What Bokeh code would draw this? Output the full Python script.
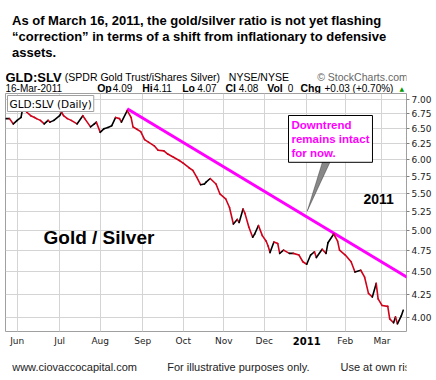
from bokeh.plotting import figure
from bokeh.layouts import column
from bokeh.models import FixedTicker, PrintfTickFormatter, Label, PolyAnnotation, ColumnDataSource
from bokeh.embed import file_html
from bokeh.resources import INLINE

# ---- data (trading-day index 0 = 1 Jun 2010) ----
days = [-6, -4, -2, 0, 2, 3, 4, 5, 7, 9, 10, 12, 14, 16, 17, 19, 22, 23, 24, 26,
        28, 31, 34, 35, 38, 40, 41, 43, 45, 47, 49, 51, 53, 54, 57, 59, 60, 62, 64, 66,
        68, 71, 73, 76, 78, 81, 84, 86, 89, 91, 93, 95, 97, 98, 100, 103, 105, 108, 110, 112,
        114, 115, 117, 118, 120, 122, 123, 125, 127, 129, 130, 131, 133, 135, 136, 138, 141, 143, 146, 148,
        150, 152, 154, 155, 158, 160, 161, 164, 166, 167, 170, 173, 175, 178, 180, 182, 184, 186, 187, 189,
        192, 193, 195, 196, 197, 199, 200]
ratio = [6.67, 6.67, 6.58, 6.64, 6.69, 6.88, 6.84, 6.78, 6.72, 6.69, 6.67, 6.64, 6.58, 6.64, 6.61, 6.64, 6.72, 6.78, 6.72, 6.67,
         6.64, 6.58, 6.72, 6.67, 6.53, 6.58, 6.61, 6.44, 6.50, 6.52, 6.55, 6.69, 6.67, 6.61, 6.81, 6.69, 6.53, 6.49, 6.45, 6.32,
         6.28, 6.22, 6.15, 6.14, 6.09, 6.04, 5.99, 5.95, 5.88, 5.84, 5.74, 5.63, 5.64, 5.67, 5.72, 5.64, 5.50, 5.43, 5.31, 5.09,
         5.15, 5.11, 5.29, 5.23, 5.05, 4.92, 4.96, 5.07, 4.94, 4.87, 4.81, 4.73, 4.86, 4.84, 4.72, 4.76, 4.72, 4.72, 4.70, 4.62,
         4.59, 4.70, 4.74, 4.67, 4.77, 4.72, 4.85, 4.96, 4.87, 4.76, 4.70, 4.62, 4.50, 4.52, 4.44, 4.26, 4.22, 4.37, 4.20, 4.13,
         4.12, 3.99, 3.95, 4.01, 3.94, 4.02, 4.08]
month_days = [0, 22, 43, 65, 86, 107, 128, 150, 170, 189]
month_labels = ["Jun", "Jul", "Aug", "Sep", "Oct", "Nov", "Dec", "2011", "Feb", "Mar"]
y_ticks = [4.00, 4.25, 4.50, 4.75, 5.00, 5.25, 5.50, 5.75, 6.00, 6.25, 6.50, 6.75, 7.00]
trend_days = [57, 202]
trend_vals = [6.84, 4.44]

W = 436
FONT = "Liberation Sans"
AXFONT = "DejaVu Sans"


def blank(fig):
    fig.outline_line_color = None
    fig.background_fill_color = "white"
    fig.border_fill_color = "white"
    fig.xgrid.visible = False
    fig.ygrid.visible = False
    return fig


def lab(fig, text, x, y, size="10px", bold=False, color="black", font=FONT, x_units="canvas",
        align="left", baseline="alphabetic", **kw):
    fig.add_layout(Label(x=x, y=y, x_units=x_units, y_units="canvas", text=text,
                         text_font=font, text_font_size=size,
                         text_font_style="bold" if bold else "normal",
                         text_color=color, text_baseline=baseline, text_align=align, **kw))


# ---------------- header ----------------
HH = 93
head = blank(figure(width=W, height=HH, output_backend="svg", toolbar_location=None, title=None,
                    x_axis_location=None, y_axis_location=None, x_range=(0, W), y_range=(0, HH),
                    min_border=0))
lab(head, "As of March 16, 2011, the gold/silver ratio is not yet flashing", 11.5, 20, "13px", True)
lab(head, "\u201ccorrection\u201d in terms of a shift from inflationary to defensive", 11.5, 36, "13px", True)
lab(head, "assets.", 11.5, 52, "13px", True)
lab(head, "GLD:SLV", 5, 76.5, "13px", True)
lab(head, "(SPDR Gold Trust/iShares Silver)", 64.3, 76.5, "10.5px")
lab(head, "NYSE/NYSE", 228.3, 76.5, "10.5px")
lab(head, "\u00a9 StockCharts.com", 316.7, 76.5, "10.5px", color="#666666")
lab(head, "16-Mar-2011", 5, 87.5, "10px")
for t, x, b in [("Op", 96.7, True), ("4.09", 112.3, False), ("Hi", 141.7, True), ("4.11", 152.7, False),
                ("Lo", 181.7, True), ("4.07", 196.7, False), ("Cl", 225, True), ("4.08", 238.3, False),
                ("Vol", 266.7, True), ("0", 287.3, False), ("Chg", 300, True),
                ("+0.03 (+0.70%)", 324, False)]:
    lab(head, t, x, 87.5, "10.5px" if b else "10px", b)
lab(head, "\u25b2", 399, 87.5, "6px", color="#009900", font="DejaVu Sans")

# ---------------- main chart ----------------
p = figure(width=W, height=239, output_backend="svg", toolbar_location=None, title=None,
           y_axis_type="log", y_axis_location="right",
           x_range=(-6.06, 201.7), y_range=(3.8627, 7.1141),
           min_border_left=5, min_border_right=30, min_border_top=0, min_border_bottom=1)
p.outline_line_color = "#a0a0a0"
p.background_fill_color = "white"
p.border_fill_color = "white"

p.yaxis.ticker = FixedTicker(ticks=y_ticks)
p.yaxis.formatter = PrintfTickFormatter(format="%.2f")
p.yaxis.axis_line_color = None
p.yaxis.major_tick_out = 3
p.yaxis.major_tick_in = 0
p.yaxis.minor_tick_line_color = None
p.yaxis.major_tick_line_color = "#808080"
p.yaxis.major_label_standoff = 2
p.yaxis.major_label_text_font = AXFONT
p.yaxis.major_label_text_font_size = "9px"
p.yaxis.major_label_text_color = "#222222"
p.xaxis.visible = False

p.xgrid.ticker = FixedTicker(ticks=month_days)
p.ygrid.ticker = FixedTicker(ticks=y_ticks)
p.xgrid.grid_line_color = "#d4d4d4"
p.ygrid.grid_line_color = "#d4d4d4"

# trend line
p.line(trend_days, trend_vals, line_color="#ff00ff", line_width=3)

# price line, red when down, black when up
src = ColumnDataSource(dict(
    x0=days[:-1], y0=ratio[:-1], x1=days[1:], y1=ratio[1:],
    c=["#d0021b" if b < a else "#000000" for a, b in zip(ratio[:-1], ratio[1:])]))
p.segment("x0", "y0", "x1", "y1", source=src, line_color="c", line_width=1.6, line_cap="round")

# panel caption box
p.add_layout(Label(x=7, y=2, x_units="canvas", y_units="canvas", text="GLD:SLV (Daily)",
                   text_font="DejaVu Sans", text_font_size="10.5px", text_color="black",
                   text_baseline="top", text_align="left",
                   background_fill_color="white", border_line_color="#a0a0a0", padding=2))

lab(p, "Gold / Silver", 43, 144.3, "19px", True)
lab(p, "2011", 363, 105.3, "14px", True)

p.add_layout(PolyAnnotation(xs=[323.3, 331.7, 306.7], ys=[64, 64, 117.7],
                            xs_units="canvas", ys_units="canvas",
                            fill_color="#888888", fill_alpha=1, line_color="black", line_width=1))
callout = "Downtrend\nremains intact\nfor now."
p.add_layout(Label(x=291, y=25, x_units="canvas", y_units="canvas", text=callout,
                   text_font=FONT, text_font_size="11.5px", text_font_style="bold", text_alpha=0,
                   text_baseline="top", text_align="left", text_line_height=1.2,
                   background_fill_color="#444444", padding=3))
p.add_layout(Label(x=288, y=22, x_units="canvas", y_units="canvas", text=callout,
                   text_font=FONT, text_font_size="11.5px", text_font_style="bold", text_color="#ff00ff",
                   text_baseline="top", text_align="left", text_line_height=1.2,
                   background_fill_color="white", border_line_color="black", padding=3))

# ---------------- month labels (shares the chart's x scale) ----------------
months = blank(figure(width=W, height=18, output_backend="svg", toolbar_location=None, title=None,
                      x_axis_location=None, y_axis_location=None, x_range=p.x_range, y_range=(0, 1),
                      min_border_left=5, min_border_right=30, min_border_top=0, min_border_bottom=0))
for d, l in zip(month_days, month_labels):
    lab(months, l, d, 8, "10px" if l == "2011" else "9px", l == "2011", "black" if l == "2011" else "#222222",
        AXFONT, x_units="data", align="center", baseline="middle")

# ---------------- footer ----------------
foot = blank(figure(width=W, height=30, output_backend="svg", toolbar_location=None, title=None,
                    x_axis_location=None, y_axis_location=None, x_range=(0, W), y_range=(0, 30),
                    min_border=0))
lab(foot, "www.ciovaccocapital.com", 11.7, 16.5, "11px", color="#222222")
lab(foot, "For illustrative purposes only.", 166.7, 16.5, "11px", color="#222222")
lab(foot, "Use at own risk.", 340, 16.5, "11px", color="#222222")

layout = column(head, p, months, foot, spacing=0)
open("out.html", "w").write(file_html(layout, INLINE))
